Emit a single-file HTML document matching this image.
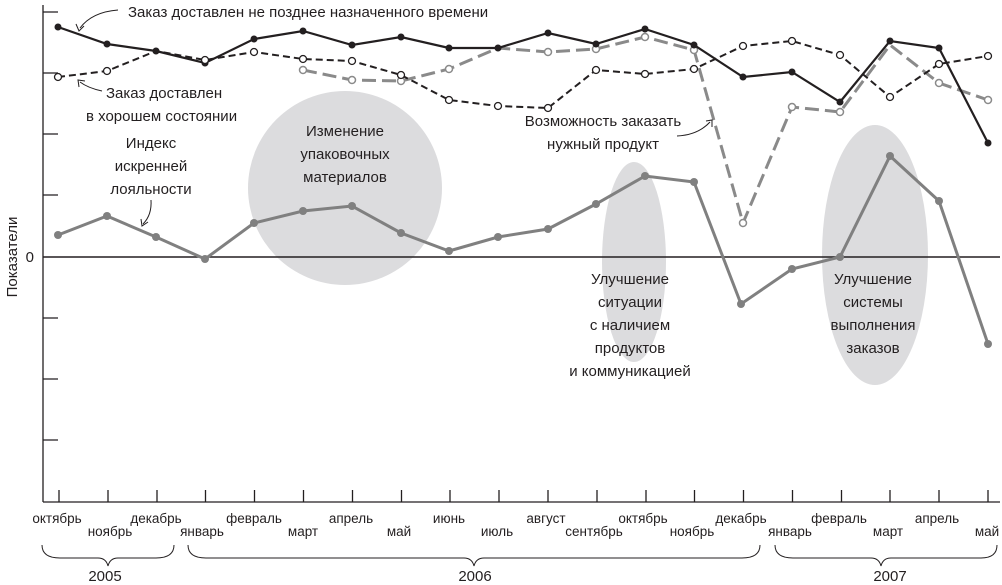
<!DOCTYPE html>
<html><head><meta charset="utf-8"><style>
html,body{margin:0;padding:0;background:#fff}
svg{display:block}
text{font-family:"Liberation Sans",sans-serif;fill:#231f20}
.t{font-size:15px}
.m{font-size:13.5px}
</style></head><body>
<svg width="1002" height="585" viewBox="0 0 1002 585" xmlns="http://www.w3.org/2000/svg">
<ellipse cx="345" cy="188" rx="97" ry="97" fill="#dcdcde"/>
<ellipse cx="634" cy="262" rx="32" ry="100" fill="#dcdcde"/>
<ellipse cx="875" cy="255" rx="53" ry="130" fill="#dcdcde"/>
<g stroke="#231f20" stroke-width="1.3" fill="none">
<line x1="43" y1="5" x2="43" y2="502"/>
<line x1="43" y1="502" x2="1000" y2="502"/>
<line x1="43" y1="257" x2="1000" y2="257" stroke-width="1.6"/>
<path d="M43 12h15M43 73h15M43 134h15M43 195h15M43 318h15M43 379h15M43 440h15"/>
<path d="M59 490v12M108 490v12M157 490v12M205.5 490v12M254.5 490v12M303.5 490v12M352.5 490v12M401.5 490v12M450 490v12M499 490v12M548 490v12M597 490v12M646 490v12M694.5 490v12M743.5 490v12M792.5 490v12M841.5 490v12M890 490v12M939 490v12M988 490v12"/>
<path d="M42 545 q0 13 18 13 h38 q8 0 10 8 q2 -8 10 -8 h38 q18 0 18 -13" stroke-width="1"/>
<path d="M188 545 q0 13 18 13 h258 q8 0 10 8 q2 -8 10 -8 h258 q18 0 18 -13" stroke-width="1"/>
<path d="M775 545 q0 13 18 13 h78 q8 0 10 8 q2 -8 10 -8 h90 q16 0 16 -13" stroke-width="1"/>
</g>
<polyline fill="none" stroke="#808080" stroke-width="3" points="58,235 107,216 156,237 205,259 254,223 303,211 352,206 401,233 449,251 498,237 548,229 596,204 645,176 694,182 741,304 792,269 840,257 890,156 939,201 988,344"/>
<g fill="#808080"><circle cx="58" cy="235" r="4"/><circle cx="107" cy="216" r="4"/><circle cx="156" cy="237" r="4"/><circle cx="205" cy="259" r="4"/><circle cx="254" cy="223" r="4"/><circle cx="303" cy="211" r="4"/><circle cx="352" cy="206" r="4"/><circle cx="401" cy="233" r="4"/><circle cx="449" cy="251" r="4"/><circle cx="498" cy="237" r="4"/><circle cx="548" cy="229" r="4"/><circle cx="596" cy="204" r="4"/><circle cx="645" cy="176" r="4"/><circle cx="694" cy="182" r="4"/><circle cx="741" cy="304" r="4"/><circle cx="792" cy="269" r="4"/><circle cx="840" cy="257" r="4"/><circle cx="890" cy="156" r="4"/><circle cx="939" cy="201" r="4"/><circle cx="988" cy="344" r="4"/></g>
<polyline fill="none" stroke="#8a8a8a" stroke-width="3" stroke-dasharray="14,6" points="303,70 352,80 401,81 449,69 498,48 548,52 596,49 645,37 694,50 743,223 792,107 840,112 890,45 939,83 988,100"/>
<g fill="#fff" stroke="#8a8a8a" stroke-width="1.5"><circle cx="303" cy="70" r="3.5"/><circle cx="352" cy="80" r="3.5"/><circle cx="401" cy="81" r="3.5"/><circle cx="449" cy="69" r="3.5"/><circle cx="548" cy="52" r="3.5"/><circle cx="596" cy="49" r="3.5"/><circle cx="645" cy="37" r="3.5"/><circle cx="694" cy="50" r="3.5"/><circle cx="743" cy="223" r="3.5"/><circle cx="792" cy="107" r="3.5"/><circle cx="840" cy="112" r="3.5"/><circle cx="939" cy="83" r="3.5"/><circle cx="988" cy="100" r="3.5"/></g>
<polyline fill="none" stroke="#231f20" stroke-width="2" stroke-dasharray="7,4" points="58,77 107,71 156,51 205,60 254,52 303,59 352,61 401,75 449,100 498,106 548,108 596,70 645,74 694,69 743,46 792,41 840,55 890,97 939,64 988,56"/>
<polyline fill="none" stroke="#231f20" stroke-width="2.2" points="58,27 107,44 156,51 205,63 254,39 303,31 352,45 401,37 449,48 498,48 548,33 596,44 645,29 694,45 743,77 792,72 840,102 890,41 939,48 988,143"/>
<g fill="#231f20"><circle cx="58" cy="27" r="3.5"/><circle cx="107" cy="44" r="3.5"/><circle cx="156" cy="51" r="3.5"/><circle cx="205" cy="63" r="3.5"/><circle cx="254" cy="39" r="3.5"/><circle cx="303" cy="31" r="3.5"/><circle cx="352" cy="45" r="3.5"/><circle cx="401" cy="37" r="3.5"/><circle cx="449" cy="48" r="3.5"/><circle cx="498" cy="48" r="3.5"/><circle cx="548" cy="33" r="3.5"/><circle cx="596" cy="44" r="3.5"/><circle cx="645" cy="29" r="3.5"/><circle cx="694" cy="45" r="3.5"/><circle cx="743" cy="77" r="3.5"/><circle cx="792" cy="72" r="3.5"/><circle cx="840" cy="102" r="3.5"/><circle cx="890" cy="41" r="3.5"/><circle cx="939" cy="48" r="3.5"/><circle cx="988" cy="143" r="3.5"/></g>
<g fill="#fff" stroke="#231f20" stroke-width="1.3"><circle cx="58" cy="77" r="3.5"/><circle cx="107" cy="71" r="3.5"/><circle cx="205" cy="60" r="3.5"/><circle cx="254" cy="52" r="3.5"/><circle cx="303" cy="59" r="3.5"/><circle cx="352" cy="61" r="3.5"/><circle cx="401" cy="75" r="3.5"/><circle cx="449" cy="100" r="3.5"/><circle cx="498" cy="106" r="3.5"/><circle cx="548" cy="108" r="3.5"/><circle cx="596" cy="70" r="3.5"/><circle cx="645" cy="74" r="3.5"/><circle cx="694" cy="69" r="3.5"/><circle cx="743" cy="46" r="3.5"/><circle cx="792" cy="41" r="3.5"/><circle cx="840" cy="55" r="3.5"/><circle cx="890" cy="97" r="3.5"/><circle cx="939" cy="64" r="3.5"/><circle cx="988" cy="56" r="3.5"/></g>
<g fill="none" stroke="#231f20" stroke-width="1">
<path d="M118 10 Q92 12 80 28"/><path d="M76 24 L79 31 L84 26"/>
<path d="M102 91 Q88 88 80 82"/><path d="M79 87 L78 80 L85 81"/>
<path d="M151 200 Q152 215 143 224"/><path d="M141 219 L142 226 L148 222"/>
<path d="M677 136 Q698 135 710 122"/><path d="M706 121 L712 120 L712 127"/>
</g>
<text class="t" x="128" y="17">Заказ доставлен не позднее назначенного времени</text>
<text class="t" x="106" y="98">Заказ доставлен</text>
<text class="t" x="86" y="121">в хорошем состоянии</text>
<text class="t" text-anchor="middle" x="151" y="148">Индекс</text>
<text class="t" text-anchor="middle" x="151" y="171">искренней</text>
<text class="t" text-anchor="middle" x="151" y="194">лояльности</text>
<text class="t" text-anchor="middle" x="345" y="136">Изменение</text>
<text class="t" text-anchor="middle" x="345" y="159">упаковочных</text>
<text class="t" text-anchor="middle" x="345" y="182">материалов</text>
<text class="t" text-anchor="middle" x="603" y="126">Возможность заказать</text>
<text class="t" text-anchor="middle" x="603" y="149">нужный продукт</text>
<text class="t" text-anchor="middle" x="630" y="284">Улучшение</text>
<text class="t" text-anchor="middle" x="630" y="307">ситуации</text>
<text class="t" text-anchor="middle" x="630" y="330">с наличием</text>
<text class="t" text-anchor="middle" x="630" y="353">продуктов</text>
<text class="t" text-anchor="middle" x="630" y="376">и коммуникацией</text>
<text class="t" text-anchor="middle" x="873" y="284">Улучшение</text>
<text class="t" text-anchor="middle" x="873" y="307">системы</text>
<text class="t" text-anchor="middle" x="873" y="330">выполнения</text>
<text class="t" text-anchor="middle" x="873" y="353">заказов</text>
<text class="t" x="34" y="262" text-anchor="end">0</text>
<text class="t" transform="translate(17,257) rotate(-90)" text-anchor="middle">Показатели</text>
<g text-anchor="middle">
<text class="m" x="57" y="523">октябрь</text><text class="m" x="156" y="523">декабрь</text><text class="m" x="254" y="523">февраль</text><text class="m" x="351" y="523">апрель</text><text class="m" x="449" y="523">июнь</text><text class="m" x="546" y="523">август</text><text class="m" x="643" y="523">октябрь</text><text class="m" x="741" y="523">декабрь</text><text class="m" x="839" y="523">февраль</text><text class="m" x="937" y="523">апрель</text>
<text class="m" x="110" y="536">ноябрь</text><text class="m" x="202" y="536">январь</text><text class="m" x="303" y="536">март</text><text class="m" x="399" y="536">май</text><text class="m" x="497" y="536">июль</text><text class="m" x="594" y="536">сентябрь</text><text class="m" x="692" y="536">ноябрь</text><text class="m" x="790" y="536">январь</text><text class="m" x="888" y="536">март</text><text class="m" x="987" y="536">май</text>
<text class="t" x="105" y="581">2005</text><text class="t" x="475" y="581">2006</text><text class="t" x="890" y="581">2007</text>
</g>
</svg>
</body></html>
